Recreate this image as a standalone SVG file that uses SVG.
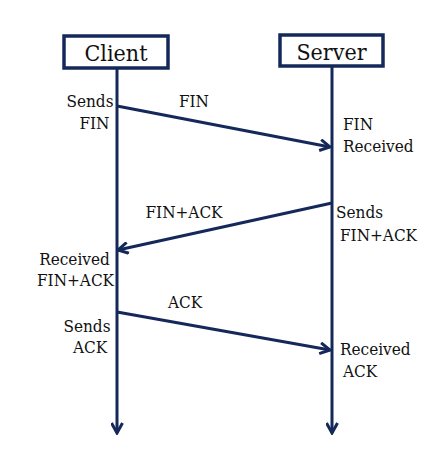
<svg xmlns="http://www.w3.org/2000/svg" width="441" height="452" viewBox="0 0 441 452">
<style>
.box{fill:#fff;stroke:#14295a;stroke-width:3.5}
.ln{stroke:#14295a;stroke-width:3;fill:none}
.t{font-family:"DejaVu Serif Condensed","DejaVu Serif",serif;font-stretch:condensed;fill:#111}
.title{font-size:23px}
.lb{font-size:17px}
.m{text-anchor:middle}
</style>
<defs>
<marker id="ah" viewBox="0 0 13 13" refX="11.5" refY="6.5" markerWidth="13" markerHeight="13" markerUnits="userSpaceOnUse" orient="auto">
<path d="M1.5,1 L11.5,6.5 L1.5,12" fill="none" stroke="#14295a" stroke-width="3"/>
</marker>
</defs>
<rect width="441" height="452" fill="#fff"/>
<g id="connectors">
<line class="ln" x1="117" y1="69" x2="117" y2="433" marker-end="url(#ah)"/>
<line class="ln" x1="332" y1="67" x2="332" y2="433" marker-end="url(#ah)"/>
<line class="ln" x1="117" y1="106" x2="330" y2="147" marker-end="url(#ah)"/>
<line class="ln" x1="332" y1="203" x2="118" y2="250" marker-end="url(#ah)"/>
<line class="ln" x1="117" y1="312" x2="330" y2="350" marker-end="url(#ah)"/>
</g>
<g id="client">
<rect class="box" x="64" y="36" width="104" height="32"/>
<text class="t title m" x="116" y="61">Client</text>
</g>
<g id="server">
<rect class="box" x="280" y="35" width="103" height="31"/>
<text class="t title m" x="331.5" y="60">Server</text>
</g>
<g id="labels" class="t lb">
<text class="m" x="90" y="107">Sends</text>
<text class="m" x="94.5" y="129">FIN</text>
<text class="m" x="194" y="107">FIN</text>
<text x="343" y="130">FIN</text>
<text x="343" y="152">Received</text>
<text class="m" x="184" y="218">FIN+ACK</text>
<text x="336" y="218">Sends</text>
<text x="340" y="241">FIN+ACK</text>
<text class="m" x="74.5" y="265">Received</text>
<text class="m" x="75.5" y="286">FIN+ACK</text>
<text class="m" x="185" y="308">ACK</text>
<text class="m" x="87" y="332">Sends</text>
<text class="m" x="90" y="353">ACK</text>
<text x="340" y="355">Received</text>
<text x="343" y="377">ACK</text>
</g>
</svg>
